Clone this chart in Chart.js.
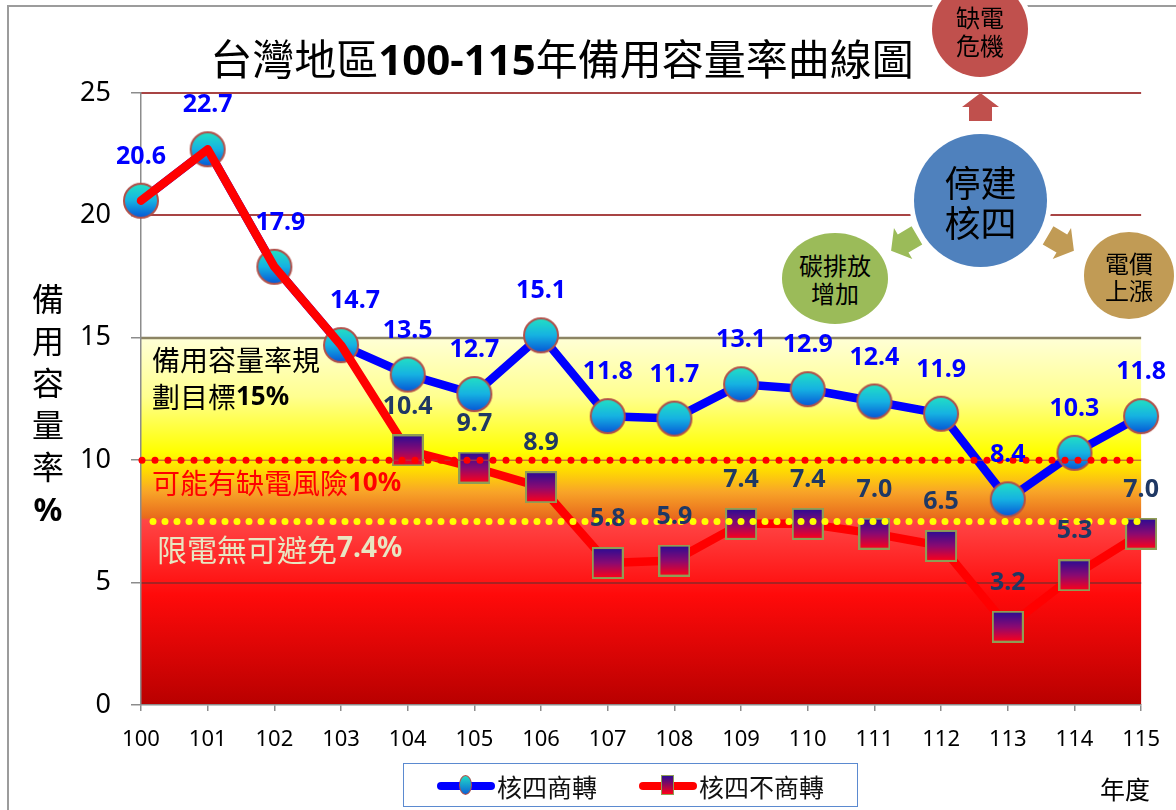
<!DOCTYPE html>
<html lang="zh-Hant">
<head>
<meta charset="utf-8">
<title>台灣地區100-115年備用容量率曲線圖</title>
<script src="https://cdn.jsdelivr.net/npm/chart.js@4.4.1/dist/chart.umd.min.js"></script>
<style>
  html, body { margin: 0; padding: 0; background: #fff; }
  body { width: 1176px; height: 810px; position: relative; overflow: hidden;
         font-family: "Noto Sans CJK TC", "Noto Sans", sans-serif; }
  #frame { position: absolute; left: 7px; top: 5px; width: 1300px; height: 1000px;
           border-left: 2px solid #9c9c9c; border-top: 2px solid #9c9c9c; }
  #chart { position: absolute; left: 0; top: 0; }
  .title { position: absolute; left: 0; width: 1124px; top: 30px; text-align: center;
           font-size: 42px; line-height: 54px; color: #000; white-space: nowrap; }
  .title b { font-family: "Noto Sans", sans-serif; font-weight: 700; }
  .ytitle { position: absolute; left: 29px; top: 276px; width: 38px; text-align: center;
            font-size: 32px; line-height: 42px; color: #000; }
  .ytitle b { font-family: "Noto Sans", sans-serif; }
  .bubble { position: absolute; border-radius: 50%; display: flex; flex-direction: column;
            align-items: center; justify-content: center; color: #000; }
  .legend { position: absolute; left: 403px; top: 763px; width: 455px; height: 44px;
            border: 1.5px solid #5b8ad0; box-sizing: border-box; }
  .item { position: absolute; top: 0; height: 44px; display: flex; align-items: center;
          font-size: 25px; color: #111; }
  .bar { position: relative; width: 58px; height: 8px; border-radius: 4px; margin-right: 2px; }
  .mark { position: absolute; left: 22px; top: -7px; width: 13px; height: 20px; box-sizing: border-box; }
  .xname { position: absolute; left: 1100px; top: 770px; font-size: 25px; color: #000; }
</style>
</head>
<body>
<div id="frame"></div>
<canvas id="chart" width="1176" height="810"></canvas>
<div class="title">台灣地區<b>100-115</b>年備用容量率曲線圖</div>
<div class="ytitle">備<br>用<br>容<br>量<br>率<br><b>%</b></div>

<div class="bubble" style="left:932px;top:-19px;width:96px;height:96px;background:#c0504d;box-shadow:0 0 0 5px #fff;font-size:24px;line-height:28px;">
  <span style="margin-top:4px">缺電</span><span>危機</span></div>
<div class="bubble" style="left:914px;top:134px;width:133px;height:133px;background:#4f81bd;box-shadow:0 0 0 5px #fff;font-size:36px;line-height:40px;">
  <span>停建</span><span>核四</span></div>
<div class="bubble" style="left:782px;top:233px;width:106px;height:91px;background:#9bbb59;font-size:24px;line-height:28px;">
  <span>碳排放</span><span>增加</span></div>
<div class="bubble" style="left:1084px;top:232px;width:90px;height:87px;background:#c19b55;font-size:24px;line-height:27px;">
  <span>電價</span><span>上漲</span></div>

<div class="legend">
  <div class="item" style="left:33px">
    <div class="bar" style="background:#0000ff">
      <div class="mark" style="border-radius:50%;border:1.5px solid #b0504a;background:linear-gradient(#22dcc6,#0a62d6)"></div>
    </div>核四商轉</div>
  <div class="item" style="left:235px">
    <div class="bar" style="background:#ff0000">
      <div class="mark" style="border:1.5px solid #8f9d55;background:linear-gradient(#2b0c94,#ff0018)"></div>
    </div>核四不商轉</div>
</div>
<div class="xname">年度</div>

<script>
// 年度 (民國)
const years = ['100', '101', '102', '103', '104', '105', '106', '107',
               '108', '109', '110', '111', '112', '113', '114', '115'];
// 備用容量率 %
const withNuclear = [20.6, 22.7, 17.9, 14.7, 13.5, 12.7, 15.1, 11.8,
                     11.7, 13.1, 12.9, 12.4, 11.9, 8.4, 10.3, 11.8];
const withoutNuclear = [20.6, 22.7, 17.9, 14.7, 10.4, 9.7, 8.9, 5.8,
                        5.9, 7.4, 7.4, 7.0, 6.5, 3.2, 5.3, 7.0];
const seriesNames = ['核四商轉', '核四不商轉'];
const yTicks = [0, 5, 10, 15, 20, 25];
// 參考線
const targetLine = 15;   // 規劃目標
const riskLine = 10;     // 可能有缺電風險
const limitLine = 7.5;   // 限電無可避免 (標示 7.4%)
const splitIndex = 4;    // 兩條曲線從 104 年開始分開

const latin = '"Noto Sans", sans-serif';
const cjk = '"Noto Sans CJK TC", "Noto Sans", sans-serif';

// marker images
function circleMarker() {
  const c = document.createElement('canvas');
  c.width = 38; c.height = 38;
  const g = c.getContext('2d');
  const grad = g.createLinearGradient(0, 2, 0, 36);
  grad.addColorStop(0, '#22e0c4');
  grad.addColorStop(0.5, '#16b2e2');
  grad.addColorStop(1, '#0656d6');
  g.beginPath();
  g.arc(19, 19, 17, 0, Math.PI * 2);
  g.fillStyle = grad;
  g.fill();
  g.lineWidth = 2;
  g.strokeStyle = '#b0504a';
  g.stroke();
  return c;
}
function squareMarker() {
  const c = document.createElement('canvas');
  c.width = 32; c.height = 32;
  const g = c.getContext('2d');
  const grad = g.createLinearGradient(0, 1, 0, 31);
  grad.addColorStop(0, '#2b0c94');
  grad.addColorStop(0.5, '#8a0a72');
  grad.addColorStop(1, '#ff0018');
  g.fillStyle = grad;
  g.fillRect(1, 1, 30, 30);
  g.lineWidth = 2;
  g.strokeStyle = '#8f9d55';
  g.strokeRect(1, 1, 30, 30);
  return c;
}

function mixedText(ctx, x, y, parts) {
  ctx.textBaseline = 'middle';
  ctx.textAlign = 'left';
  for (const p of parts) {
    ctx.font = p[1];
    ctx.fillStyle = p[2];
    ctx.fillText(p[0], x, y);
    x += ctx.measureText(p[0]).width;
  }
}

function blockArrow(ctx, cx, cy, ang, len, shaftW, headW, headL, color) {
  const h = len / 2;
  ctx.save();
  ctx.translate(cx, cy);
  ctx.rotate(ang);
  ctx.beginPath();
  ctx.moveTo(-h, -shaftW / 2);
  ctx.lineTo(h - headL, -shaftW / 2);
  ctx.lineTo(h - headL, -headW / 2);
  ctx.lineTo(h, 0);
  ctx.lineTo(h - headL, headW / 2);
  ctx.lineTo(h - headL, shaftW / 2);
  ctx.lineTo(-h, shaftW / 2);
  ctx.closePath();
  ctx.fillStyle = color;
  ctx.fill();
  ctx.restore();
}

const backdrop = {
  id: 'backdrop',
  beforeDraw(chart) {
    const { ctx, chartArea: a, scales: { y } } = chart;
    const top = y.getPixelForValue(targetLine);
    const grad = ctx.createLinearGradient(0, top, 0, a.bottom);
    grad.addColorStop(0, '#ffffd6');
    grad.addColorStop(0.16, '#ffff90');
    grad.addColorStop(0.31, '#ffff00');
    grad.addColorStop(0.36, '#ffdc00');
    grad.addColorStop(0.42, '#f8a428');
    grad.addColorStop(0.49, '#e86a1c');
    grad.addColorStop(0.497, '#ff4646');
    grad.addColorStop(0.70, '#ff0a0a');
    grad.addColorStop(1, '#b80000');
    ctx.save();
    ctx.fillStyle = grad;
    ctx.fillRect(a.left, top, a.right - a.left, a.bottom - top);
    for (const v of yTicks) {
      if (v === 0 || v === riskLine) continue;
      const py = Math.round(y.getPixelForValue(v));
      ctx.beginPath();
      ctx.moveTo(a.left, py);
      ctx.lineTo(a.right, py);
      ctx.lineWidth = v === targetLine ? 2.5 : 2;
      ctx.strokeStyle = v === targetLine ? '#8c8464' : (v < targetLine ? '#a82222' : '#a84444');
      ctx.stroke();
    }
    ctx.restore();
  },
  afterDatasetsDraw(chart) {
    const { ctx, chartArea: a, scales: { y } } = chart;
    ctx.save();
    // 10% dotted line
    const ry = y.getPixelForValue(riskLine);
    ctx.beginPath();
    ctx.moveTo(a.left, ry);
    ctx.lineTo(a.right, ry);
    ctx.lineWidth = 1;
    ctx.strokeStyle = '#b04040';
    ctx.stroke();
    ctx.fillStyle = '#ff0000';
    for (let x = a.left + 1; x <= a.right; x += 13) {
      ctx.beginPath(); ctx.arc(x, ry, 3.5, 0, Math.PI * 2); ctx.fill();
    }
    // 7.4% dotted line
    const ly = y.getPixelForValue(limitLine);
    ctx.fillStyle = '#ffff00';
    for (let x = a.left + 12; x <= a.right; x += 12) {
      ctx.beginPath(); ctx.arc(x, ly, 3.5, 0, Math.PI * 2); ctx.fill();
    }
    // notes
    const x0 = a.left + 11;
    const ty = y.getPixelForValue(targetLine);
    mixedText(ctx, x0, ty + 23, [['備用容量率規', '28px ' + cjk, '#000']]);
    mixedText(ctx, x0, ty + 60, [['劃目標', '28px ' + cjk, '#000'], ['15%', 'bold 26px ' + latin, '#000']]);
    mixedText(ctx, x0, ry + 23, [['可能有缺電風險', '28px ' + cjk, '#ff0000'], ['10%', 'bold 26px ' + latin, '#ff0000']]);
    mixedText(ctx, x0 + 5, ly + 28, [['限電無可避免', '30px ' + cjk, '#e8e6c2'], ['7.4%', 'bold 28px ' + latin, '#e8e6c2']]);

    // value labels
    ctx.textAlign = 'center';
    ctx.textBaseline = 'middle';
    ctx.font = 'bold 25px ' + latin;
    chart.data.datasets.forEach((ds, di) => {
      const meta = chart.getDatasetMeta(di);
      meta.data.forEach((pt, i) => {
        if (di === 1 && i < splitIndex) return;
        const dx = (di === 0 && i === 3) ? 14 : (di === 0 && i === 2) ? 6 : 0;
        ctx.fillStyle = di === 0 ? '#0000ff' : '#1f3864';
        ctx.fillText(ds.data[i].toFixed(1), pt.x + dx, pt.y - 44);
      });
    });
    ctx.restore();
  },
  afterDraw(chart) {
    const ctx = chart.ctx;
    blockArrow(ctx, 980.5, 107, -Math.PI / 2, 28, 23, 37, 14, '#c0504d');
    blockArrow(ctx, 904, 243, Math.PI * 0.83, 30, 21, 36, 14, '#9bbb59');
    blockArrow(ctx, 1061, 243, Math.PI * 0.17, 30, 21, 36, 14, '#c19b55');
  }
};

const circleImg = circleMarker();
const squareImg = squareMarker();

new Chart(document.getElementById('chart'), {
  type: 'line',
  data: {
    labels: years,
    datasets: [
      {
        label: seriesNames[0],
        data: withNuclear,
        borderColor: '#0000ff',
        backgroundColor: '#0000ff',
        borderWidth: 8.5,
        borderJoinStyle: 'round',
        pointStyle: circleImg,
        pointRadius: 18,
        clip: false,
        order: 2,
      },
      {
        label: seriesNames[1],
        data: withoutNuclear,
        borderColor: '#ff0000',
        backgroundColor: '#ff0000',
        borderWidth: 8.5,
        borderJoinStyle: 'round',
        borderCapStyle: 'round',
        pointStyle: squareImg,
        pointRadius: (c) => (c.dataIndex < splitIndex ? 0 : 16),
        clip: false,
        order: 1,
      },
    ],
  },
  options: {
    responsive: false,
    animation: false,
    events: [],
    layout: { padding: { left: 0, top: 93, right: 33, bottom: 0 } },
    plugins: {
      legend: { display: false },
      tooltip: { enabled: false },
      title: { display: false },
    },
    scales: {
      x: {
        afterFit: (s) => { s.height = 105; },
        grid: { drawOnChartArea: false, drawTicks: true, tickLength: 6, color: '#8c8c8c', lineWidth: 1.5 },
        border: { display: true, color: '#8c8c8c', width: 1.5 },
        ticks: { color: '#000', padding: 16, font: { family: latin, size: 22 }, maxRotation: 0, autoSkip: false },
      },
      y: {
        min: 0,
        max: 25,
        afterFit: (s) => { s.width = 141; },
        afterBuildTicks: (s) => { s.ticks = yTicks.map((v) => ({ value: v })); },
        grid: { drawOnChartArea: false, drawTicks: true, tickLength: 10, color: '#8c8c8c', lineWidth: 1.5 },
        border: { display: true, color: '#8c8c8c', width: 1.5 },
        ticks: { color: '#000', padding: 20, font: { family: latin, size: 27 } },
      },
    },
  },
  plugins: [backdrop],
});
</script>
</body>
</html>
